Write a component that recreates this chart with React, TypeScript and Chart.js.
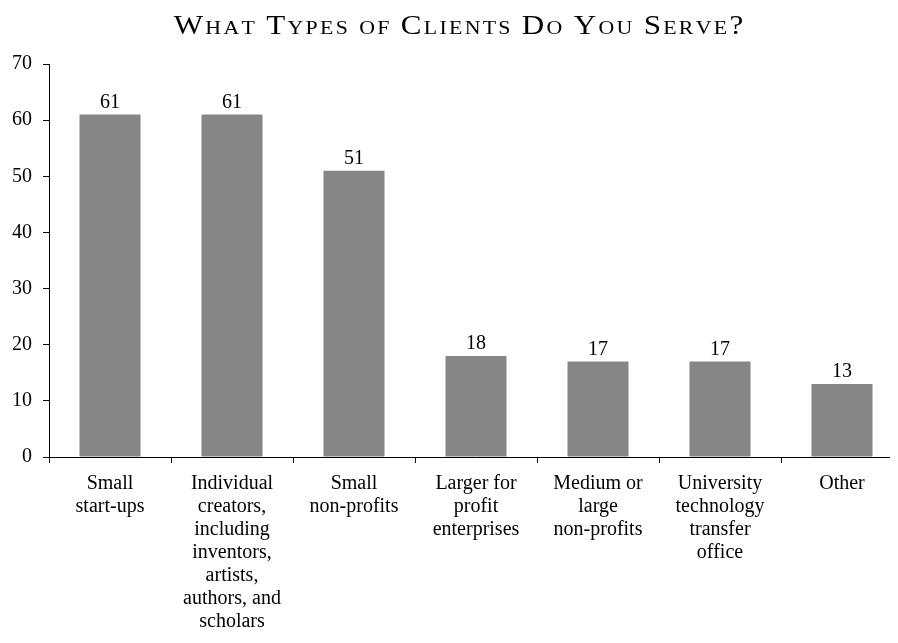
import { useEffect, useRef } from 'react';
import { Chart, registerables } from 'chart.js';

Chart.register(...registerables);

const TITLE = 'What Types of Clients Do You Serve?';
const categories: string[][] = [
  ['Small', 'start-ups'],
  ['Individual', 'creators,', 'including', 'inventors,', 'artists,', 'authors, and', 'scholars'],
  ['Small', 'non-profits'],
  ['Larger for', 'profit', 'enterprises'],
  ['Medium or', 'large', 'non-profits'],
  ['University', 'technology', 'transfer', 'office'],
  ['Other'],
];
const values = [61, 61, 51, 18, 17, 17, 13];
const yMin = 0;
const yMax = 70;
const yStep = 10;

const FAMILY = "'Liberation Serif', 'Times New Roman', serif";

const valueLabels = {
  id: 'valueLabels',
  afterDatasetsDraw(chart: any) {
    const ctx = chart.ctx;
    const meta = chart.getDatasetMeta(0);
    ctx.save();
    ctx.font = `20px ${FAMILY}`;
    ctx.fillStyle = '#000';
    ctx.textAlign = 'center';
    ctx.textBaseline = 'alphabetic';
    meta.data.forEach((bar: any, i: number) => {
      ctx.fillText(String(values[i]), bar.x, bar.y - 7);
    });
    ctx.restore();
  },
};

const smallCapsTitle = {
  id: 'smallCapsTitle',
  afterDraw(chart: any) {
    const ctx = chart.ctx;
    const big = `27px ${FAMILY}`;
    const small = `19px ${FAMILY}`;
    const stretch = 1.15;
    const spacing = 2.3;
    const chars: { t: string; f: string; w: number }[] = [];
    ctx.save();
    for (const ch of TITLE) {
      const isLower = ch !== ch.toUpperCase();
      const f = isLower ? small : big;
      const t = isLower ? ch.toUpperCase() : ch;
      ctx.font = f;
      const raw = ctx.measureText(t).width;
      chars.push({ t, f, w: t === ' ' ? raw : raw * stretch });
    }
    let total = 0;
    chars.forEach((c, i) => {
      total += c.w + (i < chars.length - 1 ? spacing : 0);
    });
    let x = chart.width / 2 + 3 - total / 2;
    ctx.fillStyle = '#000';
    ctx.textAlign = 'left';
    ctx.textBaseline = 'alphabetic';
    for (const c of chars) {
      ctx.font = c.f;
      if (c.t !== ' ') {
        ctx.save();
        ctx.translate(x, 26);
        ctx.scale(stretch, 1);
        ctx.fillText(c.t, 0, 0);
        ctx.restore();
      }
      x += c.w + spacing;
    }
    ctx.restore();
  },
};

export default function App() {
  const ref = useRef<HTMLCanvasElement>(null);
  useEffect(() => {
    document.documentElement.style.overflow = 'hidden';
    if (!ref.current) return;
    const chart = new Chart(ref.current, {
      type: 'bar',
      data: {
        labels: categories,
        datasets: [
          {
            data: values,
            backgroundColor: '#868686',
            borderWidth: 0,
            barPercentage: 0.5,
            categoryPercentage: 1,
          },
        ],
      },
      options: {
        animation: false,
        responsive: true,
        maintainAspectRatio: false,
        layout: { padding: { top: 56, left: 0, right: 0, bottom: 0 } },
        plugins: {
          legend: { display: false },
          title: { display: false },
          tooltip: { enabled: false },
        },
        scales: {
          x: {
            afterFit: (scale: any) => {
              scale.height = 186;
            },
            grid: {
              display: true,
              offset: true,
              drawOnChartArea: false,
              drawTicks: true,
              tickLength: 6,
              color: '#000',
            },
            border: { display: true, color: '#000', width: 1 },
            ticks: {
              color: '#000',
              padding: 9,
              maxRotation: 0,
              autoSkip: false,
              font: { family: FAMILY, size: 20, lineHeight: 1.15 },
            },
          },
          y: {
            min: yMin,
            max: yMax,
            afterFit: (scale: any) => {
              scale.width = 41;
            },
            grid: {
              display: true,
              drawOnChartArea: false,
              drawTicks: true,
              tickLength: 6,
              color: '#000',
            },
            border: { display: true, color: '#000', width: 1 },
            ticks: {
              stepSize: yStep,
              color: '#000',
              padding: 11,
              font: { family: FAMILY, size: 20 },
            },
          },
        },
      },
      plugins: [valueLabels, smallCapsTitle],
    });
    return () => chart.destroy();
  }, []);
  return (
    <div style={{ position: 'relative', width: 895, height: 635 }}>
      <canvas ref={ref} />
    </div>
  );
}
